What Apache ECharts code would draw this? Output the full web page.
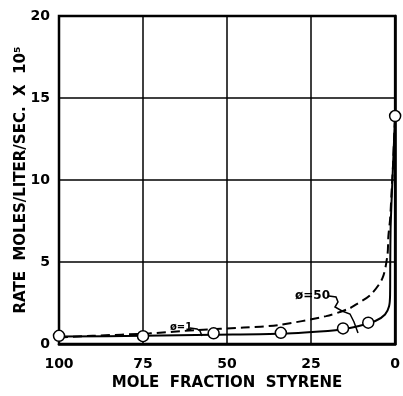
<!DOCTYPE html>
<html>
<head>
<meta charset="utf-8">
<script src="https://cdn.jsdelivr.net/npm/echarts@6/dist/echarts.min.js"></script>
<style>
  html, body { margin: 0; padding: 0; background: #fff; }
  #chart { width: 403px; height: 396px; }
</style>
</head>
<body>
<div id="chart"></div>
<script>
  // mole fraction styrene (%) vs rate x 10^5
  var solidCurve = [
    [100, 0.45], [75, 0.5], [54, 0.56], [35, 0.62], [20, 0.8], [15.5, 0.9],
    [11.7, 1.05], [5.9, 1.4], [3, 1.8], [1.8, 2.3], [1.5, 3], [1.45, 5],
    [1.35, 7], [1.1, 8.5], [0.7, 10.5], [0.3, 12.5], [0, 13.9]
  ]
  var dashedCurve = [
    [100, 0.4], [90, 0.5], [73, 0.65], [59, 0.85], [45, 1.0], [35, 1.15],
    [20.5, 1.7], [13.8, 2.15], [11.7, 2.4], [7.3, 3.0], [3.8, 4.0], [2.3, 5.4],
    [2.0, 6.6], [1.5, 7.6], [1.0, 9.5], [0.6, 11], [0.3, 12.6], [0, 13.9]
  ]
  var measured = [
    [100, 0.5], [75, 0.48], [54, 0.65], [34, 0.68], [15.5, 0.95], [8, 1.3], [0, 13.9]
  ]

  var font = 'DejaVu Sans'
  var chart = echarts.init(document.getElementById('chart'))
  var option = {
    backgroundColor: '#fff',
    animation: false,
    grid: {
      left: 59,
      right: 3,
      top: 16,
      bottom: 44,
      show: true,
      borderColor: '#000',
      borderWidth: 2.5
    },
    xAxis: {
      type: 'value',
      inverse: true,
      min: 0,
      max: 100,
      interval: 25,
      name: 'MOLE  FRACTION  STYRENE',
      nameLocation: 'middle',
      nameGap: 32,
      nameTextStyle: { color: '#000', fontFamily: font, fontWeight: 'bold', fontSize: 15 },
      axisLine: { lineStyle: { color: '#000', width: 2.5 } },
      axisTick: { show: false },
      axisLabel: { color: '#000', fontFamily: font, fontWeight: 'bold', fontSize: 14, margin: 13 },
      splitLine: { lineStyle: { color: '#000', width: 1.5 } }
    },
    yAxis: {
      type: 'value',
      min: 0,
      max: 20,
      interval: 5,
      name: 'RATE  MOLES/LITER/SEC.  X  10⁵',
      nameLocation: 'middle',
      nameGap: 30,
      nameMoveOverlap: false,
      nameTextStyle: { color: '#000', fontFamily: font, fontWeight: 'bold', fontSize: 15 },
      axisLine: { lineStyle: { color: '#000', width: 2.5 } },
      axisTick: { show: false },
      axisLabel: { color: '#000', fontFamily: font, fontWeight: 'bold', fontSize: 14, margin: 9 },
      splitLine: { lineStyle: { color: '#000', width: 1.5 } }
    },
    series: [
      {
        name: 'ø=50',
        type: 'line',
        data: dashedCurve,
        smooth: 0.3,
        showSymbol: false,
        lineStyle: { color: '#000', width: 2, type: [9, 5] }
      },
      {
        name: 'ø=1',
        type: 'line',
        data: solidCurve,
        smooth: 0.3,
        showSymbol: false,
        lineStyle: { color: '#000', width: 2 }
      },
      {
        name: 'points',
        type: 'scatter',
        data: measured,
        symbol: 'circle',
        symbolSize: 11,
        itemStyle: { color: '#fff', borderColor: '#000', borderWidth: 1.5, opacity: 1 },
        z: 5
      }
    ],
    graphic: [
      { type: 'text', left: 170, top: 322, style: { text: 'ø=1', fontFamily: font, fontWeight: 'bold', fontSize: 10, fill: '#000' } },
      { type: 'polyline', shape: { points: [[190, 328], [197, 329], [200, 331], [202, 336]] }, style: { stroke: '#000', lineWidth: 1.5, fill: null } },
      { type: 'text', left: 295, top: 290, style: { text: 'ø=50', fontFamily: font, fontWeight: 'bold', fontSize: 12, fill: '#000' } },
      { type: 'polyline', shape: { points: [[329, 296], [336, 297], [338, 302], [335, 307], [342, 311], [350, 314], [354, 322], [358, 333]] }, style: { stroke: '#000', lineWidth: 1.5, fill: null } }
    ]
  }
  chart.setOption(option)
</script>
</body>
</html>
